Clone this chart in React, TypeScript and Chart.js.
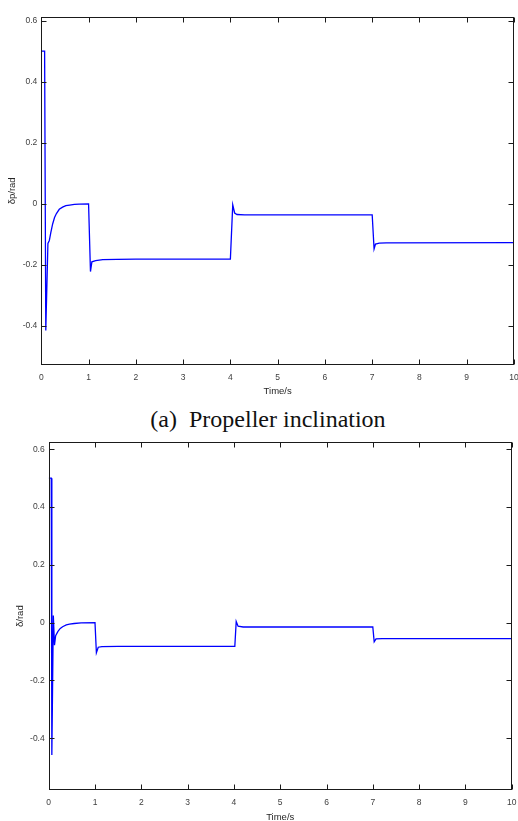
import React, { useEffect, useRef } from "react";
import { Chart, registerables } from "chart.js";

Chart.register(...registerables);

// ---- data ----
const xTicks = [0, 1, 2, 3, 4, 5, 6, 7, 8, 9, 10];
const xTickLabels = ["0", "1", "2", "3", "4", "5", "6", "7", "8", "9", "10"];
const yTicks = [-0.4, -0.2, 0, 0.2, 0.4, 0.6];
const yTickLabels = ["-0.4", "-0.2", "0", "0.2", "0.4", "0.6"];

const timeA = [0, 0.07, 0.095, 0.14, 0.17, 0.2, 0.24, 0.28, 0.32, 0.38, 0.45, 0.52, 0.6, 0.7, 0.8, 1.0, 1.04, 1.07, 1.15, 1.3, 1.6, 2.0, 4.0, 4.05, 4.09, 4.14, 4.3, 7.0, 7.04, 7.07, 7.15, 7.3, 10];
const deltaP = [0.5, 0.5, -0.415, -0.13, -0.12, -0.095, -0.066, -0.045, -0.032, -0.018, -0.011, -0.006, -0.004, -0.002, -0.001, 0, -0.222, -0.19, -0.186, -0.183, -0.182, -0.181, -0.181, -0.003, -0.03, -0.035, -0.036, -0.036, -0.148, -0.132, -0.129, -0.128, -0.127];

const timeB = [0, 0.055, 0.068, 0.1, 0.125, 0.15, 0.2, 0.25, 0.3, 0.38, 0.45, 0.55, 0.7, 1.0, 1.03, 1.07, 1.15, 1.5, 4.02, 4.05, 4.09, 4.2, 7.0, 7.03, 7.07, 7.2, 10];
const delta = [0.5, 0.5, -0.458, 0.025, -0.078, -0.045, -0.03, -0.02, -0.014, -0.008, -0.005, -0.003, -0.001, 0, -0.104, -0.085, -0.083, -0.082, -0.082, 0.004, -0.012, -0.015, -0.015, -0.066, -0.056, -0.055, -0.055];

const xTitle = "Time/s";
const yTitleA = "δp/rad";
const yTitleB = "δ/rad";
const caption = "(a)  Propeller inclination";

const FONT = "'Liberation Sans', Arial, sans-serif";

const framePlugin = {
  id: "frame",
  afterDraw(chart: any) {
    const { ctx, chartArea: a, scales } = chart;
    const l = Math.round(a.left) + 0.5;
    const r = Math.round(a.right) - 0.5;
    const t = Math.round(a.top) + 0.5;
    const b = Math.round(a.bottom) - 0.5;
    ctx.save();
    ctx.strokeStyle = "#1a1a1a";
    ctx.lineWidth = 1;
    ctx.strokeRect(l, t, r - l, b - t);
    const L = 5;
    ctx.beginPath();
    scales.x.ticks.forEach((tk: any) => {
      const px = Math.round(scales.x.getPixelForValue(tk.value)) + 0.5;
      ctx.moveTo(px, b);
      ctx.lineTo(px, b - L);
      ctx.moveTo(px, t);
      ctx.lineTo(px, t + L);
    });
    scales.y.ticks.forEach((tk: any) => {
      const py = Math.round(scales.y.getPixelForValue(tk.value)) + 0.5;
      ctx.moveTo(l, py);
      ctx.lineTo(l + L, py);
      ctx.moveTo(r, py);
      ctx.lineTo(r - L, py);
    });
    ctx.stroke();
    ctx.restore();
  },
};

type PlotProps = {
  times: number[];
  values: number[];
  yTitle: string;
  yMin: number;
  yMax: number;
  yWidth: number;
  xHeight: number;
  padTop: number;
  padRight: number;
  yTitlePad: number;
  xTitlePad: number;
  height: number;
  top: number;
};

function Plot(p: PlotProps) {
  const ref = useRef<HTMLCanvasElement | null>(null);
  useEffect(() => {
    if (!ref.current) return;
    const pts = p.times.map((t, i) => ({ x: t, y: p.values[i] }));
    const chart = new Chart(ref.current, {
      type: "line",
      data: {
        datasets: [
          {
            data: pts,
            borderColor: "#0000ff",
            borderWidth: 1.3,
            pointRadius: 0,
            tension: 0,
            fill: false,
          },
        ],
      },
      options: {
        responsive: false,
        animation: false,
        parsing: false as any,
        layout: { padding: { top: p.padTop, right: p.padRight, left: 0, bottom: 0 } },
        plugins: { legend: { display: false }, tooltip: { enabled: false } },
        scales: {
          x: {
            type: "linear",
            min: 0,
            max: 10,
            grid: { display: false, drawTicks: false },
            border: { display: false },
            afterBuildTicks: (s: any) => {
              s.ticks = xTicks.map((v) => ({ value: v }));
            },
            afterFit: (s: any) => {
              s.height = p.xHeight;
              s.paddingLeft = 0;
              s.paddingRight = 0;
            },
            ticks: {
              autoSkip: false,
              maxRotation: 0,
              padding: 8,
              color: "#404040",
              font: { family: FONT, size: 8.5 },
              callback: (_v: any, i: number) => xTickLabels[i],
            },
            title: {
              display: true,
              text: xTitle,
              color: "#262626",
              font: { family: FONT, size: 9.5 },
              padding: { top: 0, bottom: p.xTitlePad },
            },
          },
          y: {
            type: "linear",
            min: p.yMin,
            max: p.yMax,
            grid: { display: false, drawTicks: false },
            border: { display: false },
            afterBuildTicks: (s: any) => {
              s.ticks = yTicks.map((v) => ({ value: v }));
            },
            afterFit: (s: any) => {
              s.width = p.yWidth;
              s.paddingTop = 0;
              s.paddingBottom = 0;
            },
            ticks: {
              autoSkip: false,
              padding: 4,
              color: "#404040",
              font: { family: FONT, size: 8.5 },
              callback: (_v: any, i: number) => yTickLabels[i],
            },
            title: {
              display: true,
              text: p.yTitle,
              color: "#262626",
              font: { family: FONT, size: 9.5 },
              padding: { top: p.yTitlePad, bottom: 0 },
            },
          },
        },
      },
      plugins: [framePlugin],
    });
    return () => chart.destroy();
  }, []);
  return (
    <canvas
      ref={ref}
      width={518}
      height={p.height}
      style={{ position: "absolute", left: 0, top: p.top, width: 518, height: p.height }}
    />
  );
}

export default function App() {
  return (
    <div
      style={{
        position: "fixed",
        left: 0,
        top: 0,
        width: 518,
        height: 821,
        overflow: "hidden",
        background: "#fff",
      }}
    >
      <Plot
        times={timeA}
        values={deltaP}
        yTitle={yTitleA}
        yMin={-0.528}
        yMax={0.613}
        yWidth={41.3}
        xHeight={35}
        padTop={16.7}
        padRight={4}
        yTitlePad={7}
        xTitlePad={3}
        height={400}
        top={0}
      />
      <div
        style={{
          position: "absolute",
          left: 0,
          width: 536,
          top: 404,
          textAlign: "center",
          fontFamily: "'Liberation Serif', 'Times New Roman', serif",
          fontSize: 24,
          color: "#111",
          whiteSpace: "pre",
          lineHeight: "30px",
        }}
      >
        {caption}
      </div>
      <Plot
        times={timeB}
        values={delta}
        yTitle={yTitleB}
        yMin={-0.579}
        yMax={0.624}
        yWidth={48.7}
        xHeight={38}
        padTop={14.3}
        padRight={6.3}
        yTitlePad={14.5}
        xTitlePad={5}
        height={400}
        top={428}
      />
    </div>
  );
}
